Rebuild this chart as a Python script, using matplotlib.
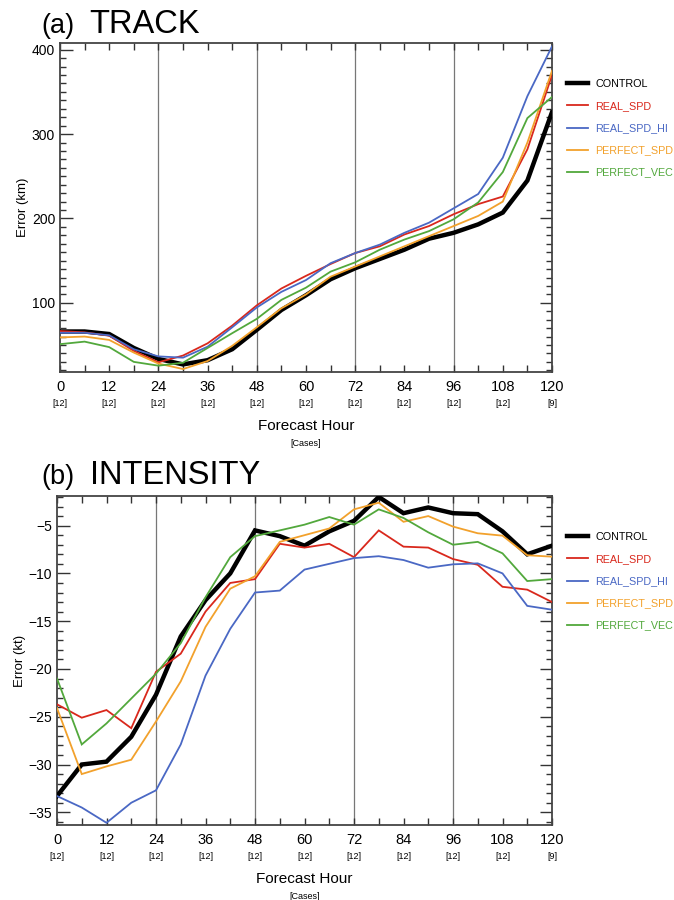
import matplotlib
matplotlib.use('Agg')
from matplotlib import pyplot as plt
from matplotlib.ticker import MultipleLocator
import matplotlib.transforms as mtransforms

plt.rcParams['font.family'] = ['Liberation Sans', 'DejaVu Sans']

hours = list(range(0, 121, 6))
tick_hours = list(range(0, 121, 12))
cases = ['[12]'] * 10 + ['[9]']
names = ['CONTROL', 'REAL_SPD', 'REAL_SPD_HI', 'PERFECT_SPD', 'PERFECT_VEC']
colors = ['#000000', '#d9281c', '#4a68c4', '#f2a12c', '#52a83c']
widths = [3.2, 1.3, 1.3, 1.3, 1.3]

# track error (km)
track_control = [66, 66, 63, 46.5, 33.5, 27, 32, 45, 68, 91.5, 109, 128, 141, 152, 163, 176, 183, 193, 207, 245, 326]
track_real_spd = [66.5, 65, 61, 43, 29.5, 37.5, 52, 73, 97, 117, 132, 146, 159, 167, 181, 191, 205, 217, 226, 282, 370]
track_real_spd_hi = [64.5, 64.5, 61.5, 45, 36.5, 35, 48, 71, 94.5, 113, 127, 147, 159, 169, 183, 195, 212, 229, 272, 345, 404]
track_perfect_spd = [59, 60, 56, 41, 28, 21.5, 31, 49, 71, 93.5, 110, 131, 143, 155, 167, 179, 191, 203, 220, 290, 375]
track_perfect_vec = [51, 54, 47.5, 30, 25.5, 29, 46.5, 64, 81, 103.5, 118, 137, 148, 163, 175, 185, 199, 219, 255, 319, 344]

# intensity error (kt)
int_control = [-33.3, -30.0, -29.7, -27.1, -22.7, -16.6, -12.8, -10.0, -5.5, -6.1, -7.1, -5.6, -4.5, -2.0, -3.7, -3.1, -3.7, -3.8, -5.6, -8.0, -7.1]
int_real_spd = [-23.7, -25.1, -24.3, -26.2, -20.3, -18.4, -14.0, -11.0, -10.6, -6.9, -7.3, -6.9, -8.3, -5.5, -7.2, -7.3, -8.5, -9.1, -11.4, -11.7, -13.0]
int_real_spd_hi = [-33.3, -34.5, -36.1, -34.0, -32.7, -27.9, -20.7, -15.8, -12.0, -11.8, -9.6, -9.0, -8.4, -8.2, -8.6, -9.4, -9.05, -8.95, -10.0, -13.4, -13.8]
int_perfect_spd = [-24.1, -31.0, -30.2, -29.5, -25.5, -21.3, -15.6, -11.6, -10.3, -6.7, -6.0, -5.3, -3.3, -2.6, -4.6, -4.0, -5.1, -5.8, -6.05, -8.1, -8.25]
int_perfect_vec = [-21.0, -27.9, -25.7, -23.1, -20.5, -17.3, -12.5, -8.3, -6.1, -5.5, -4.9, -4.1, -4.9, -3.3, -4.2, -5.7, -7.0, -6.7, -7.9, -10.8, -10.6]

track = [track_control, track_real_spd, track_real_spd_hi, track_perfect_spd, track_perfect_vec]
intensity = [int_control, int_real_spd, int_real_spd_hi, int_perfect_spd, int_perfect_vec]

fig = plt.figure(figsize=(6.74, 9.0), dpi=100)
ax1 = fig.add_axes([60/674, 1-372/900, 492/674, 329/900])
ax2 = fig.add_axes([57/674, 1-825/900, 495/674, 329/900])


def setup(ax, ylim, ymajor, yminor, ylabel):
    ax.set_xlim(0, 120)
    ax.set_ylim(*ylim)
    for h in [24, 48, 72, 96]:
        ax.axvline(h, color='#777777', lw=0.9, zorder=1)
    ax.set_xticks(tick_hours)
    ax.xaxis.set_minor_locator(MultipleLocator(6))
    ax.yaxis.set_major_locator(MultipleLocator(ymajor))
    ax.yaxis.set_minor_locator(MultipleLocator(yminor))
    ax.tick_params(which='both', direction='in', top=True, right=True, color='#333333', width=1.0)
    ax.tick_params(axis='x', which='both', length=5, labelsize=10.5, pad=6)
    ax.tick_params(axis='y', which='major', length=9, labelsize=10)
    ax.tick_params(axis='y', which='minor', length=4.5)
    for s in ax.spines.values():
        s.set_color('#444444')
        s.set_linewidth(1.3)
    ax.set_ylabel(ylabel, fontsize=9.5, labelpad=2)
    trans = mtransforms.blended_transform_factory(ax.transData, ax.transAxes)
    for h, c in zip(tick_hours, cases):
        ax.text(h, -0.095, c, transform=trans, ha='center', va='center', fontsize=6.5)
    ax.text(0.5, -0.165, 'Forecast Hour', transform=ax.transAxes, ha='center', va='center', fontsize=11)
    ax.text(0.5, -0.218, '[Cases]', transform=ax.transAxes, ha='center', va='center', fontsize=6.5)


setup(ax1, (18, 408), 100, 10, 'Error (km)')
setup(ax2, (-36.33, -1.9), 5, 1, 'Error (kt)')

for ax, data in [(ax1, track), (ax2, intensity)]:
    for name, vals, c, w in zip(names, data, colors, widths):
        ax.plot(hours, vals, color=c, lw=w, label=name, zorder=3, solid_joinstyle='miter')
    leg = ax.legend(loc='upper left', bbox_to_anchor=(1.03, 0.89),
                    frameon=False, fontsize=7.75, labelcolor='linecolor', handlelength=2.0,
                    handletextpad=0.65, labelspacing=1.12, borderaxespad=0, borderpad=0)

fig.text(41/674, 1-33/900, '(a)', fontsize=19.5, ha='left', va='baseline')
fig.text(89/674, 1-33/900, 'TRACK', fontsize=23.5, ha='left', va='baseline')
fig.text(41/674, 1-484/900, '(b)', fontsize=19.5, ha='left', va='baseline')
fig.text(90/674, 1-484/900, 'INTENSITY', fontsize=23.5, ha='left', va='baseline')

fig.savefig('out.png', dpi=100)
